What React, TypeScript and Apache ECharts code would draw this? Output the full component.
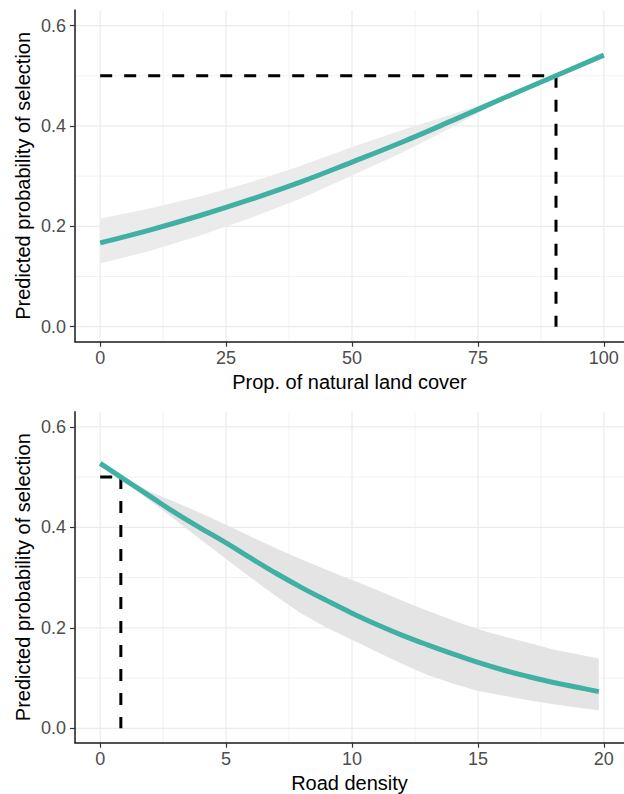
import React, { useEffect, useRef } from "react";
import * as echarts from "echarts";

// ---- Panel 1: proportion of natural land cover ----
const landX = [0, 10, 20, 30, 40, 50, 60, 70, 80, 90, 100];
const landFit = [0.167, 0.193, 0.222, 0.254, 0.289, 0.328, 0.368, 0.411, 0.455, 0.498, 0.541];
const landUpper = [0.215, 0.236, 0.26, 0.288, 0.321, 0.358, 0.392, 0.424, 0.458, 0.5, 0.543];
const landLower = [0.126, 0.151, 0.182, 0.217, 0.256, 0.301, 0.347, 0.398, 0.452, 0.496, 0.539];
const landCutoff = 90.5;
const landXTicks = [0, 25, 50, 75, 100];
const landXMinor = [12.5, 37.5, 62.5, 87.5];

// ---- Panel 2: road density ----
const roadX = [0, 1, 2, 3, 4, 5, 6, 7, 8, 9, 10, 11, 12, 13, 14, 15, 16, 17, 18, 19, 19.8];
const roadFit = [0.527, 0.494, 0.461, 0.428, 0.398, 0.369, 0.338, 0.308, 0.28, 0.254, 0.229, 0.206, 0.185, 0.166, 0.148, 0.131, 0.116, 0.103, 0.091, 0.081, 0.073];
const roadUpper = [0.529, 0.497, 0.47, 0.45, 0.428, 0.405, 0.381, 0.358, 0.336, 0.315, 0.295, 0.275, 0.254, 0.234, 0.215, 0.197, 0.183, 0.17, 0.157, 0.147, 0.139];
const roadLower = [0.525, 0.491, 0.452, 0.414, 0.375, 0.337, 0.299, 0.262, 0.228, 0.2, 0.176, 0.152, 0.128, 0.106, 0.089, 0.074, 0.065, 0.056, 0.048, 0.041, 0.036];
const roadCutoff = 0.82;
const roadXTicks = [0, 5, 10, 15, 20];
const roadXMinor = [2.5, 7.5, 12.5, 17.5];

const threshold = 0.5;
const yTicks = [0, 0.2, 0.4, 0.6];
const yMinor = [0.1, 0.3, 0.5];

const TEAL = "#40b0a3";
const FONT = "'Liberation Sans', Arial, sans-serif";

function gridSeries(idx: number, xr: number[], yr: number[], xMaj: number[], xMin: number[]) {
  return {
    type: "custom",
    xAxisIndex: idx,
    yAxisIndex: idx,
    silent: true,
    z: 0,
    data: [0],
    renderItem: (_p: any, api: any) => {
      const children: any[] = [];
      const mk = (a: number[], b: number[], major: boolean) => {
        const p1 = api.coord(a);
        const p2 = api.coord(b);
        children.push({
          type: "line",
          shape: { x1: p1[0], y1: p1[1], x2: p2[0], y2: p2[1] },
          style: { stroke: major ? "#ebebeb" : "#f2f2f2", lineWidth: major ? 1.2 : 1 },
        });
      };
      xMin.forEach((v) => mk([v, yr[0]], [v, yr[1]], false));
      yMinor.forEach((v) => mk([xr[0], v], [xr[1], v], false));
      xMaj.forEach((v) => mk([v, yr[0]], [v, yr[1]], true));
      yTicks.forEach((v) => mk([xr[0], v], [xr[1], v], true));
      return { type: "group", children };
    },
  };
}

function ribbonSeries(idx: number, xs: number[], up: number[], lo: number[], color: string) {
  return {
    type: "custom",
    xAxisIndex: idx,
    yAxisIndex: idx,
    silent: true,
    z: 1,
    data: [0],
    renderItem: (_p: any, api: any) => {
      const pts: number[][] = [];
      xs.forEach((x, i) => pts.push(api.coord([x, up[i]])));
      for (let i = xs.length - 1; i >= 0; i--) pts.push(api.coord([xs[i], lo[i]]));
      return { type: "polygon", shape: { points: pts }, style: { fill: color } };
    },
  };
}

function xAxisCfg(idx: number, min: number, max: number, ticks: number[], name: string) {
  return {
    type: "value",
    gridIndex: idx,
    min,
    max,
    axisLine: { show: true, onZero: false, lineStyle: { color: "#1a1a1a", width: 1.5 } },
    axisTick: { show: true, length: 5, customValues: ticks, lineStyle: { color: "#333333", width: 1.2 } },
    axisLabel: { customValues: ticks, color: "#4d4d4d", fontSize: 18, margin: 7, fontFamily: FONT },
    splitLine: { show: false },
    name,
    nameLocation: "middle",
    nameGap: 30,
    nameMoveOverlap: false,
    nameTextStyle: { color: "#000", fontSize: 20, fontFamily: FONT },
  };
}

function yAxisCfg(idx: number, min: number, max: number) {
  return {
    type: "value",
    gridIndex: idx,
    min,
    max,
    axisLine: { show: true, onZero: false, lineStyle: { color: "#1a1a1a", width: 1.5 } },
    axisTick: { show: true, length: 5, customValues: yTicks, lineStyle: { color: "#333333", width: 1.2 } },
    axisLabel: {
      customValues: yTicks,
      color: "#4d4d4d",
      fontSize: 18,
      margin: 9,
      fontFamily: FONT,
      formatter: (v: number) => v.toFixed(1),
    },
    splitLine: { show: false },
    name: "Predicted probability of selection",
    nameLocation: "middle",
    nameGap: 42,
    nameRotate: 90,
    nameMoveOverlap: false,
    nameTextStyle: { color: "#000", fontSize: 20, fontFamily: FONT },
  };
}

function dashed(idx: number, pts: number[][]) {
  return {
    type: "line",
    xAxisIndex: idx,
    yAxisIndex: idx,
    data: pts,
    showSymbol: false,
    silent: true,
    z: 4,
    lineStyle: { color: "#000", width: 3, type: [12, 12], cap: "butt" },
  };
}

function fitLine(idx: number, xs: number[], ys: number[]) {
  return {
    type: "line",
    xAxisIndex: idx,
    yAxisIndex: idx,
    data: xs.map((x, i) => [x, ys[i]]),
    showSymbol: false,
    smooth: 0.4,
    silent: true,
    z: 5,
    lineStyle: { color: TEAL, width: 5, cap: "butt" },
  };
}

export default function App() {
  const ref = useRef<HTMLDivElement>(null);
  useEffect(() => {
    if (!ref.current) return;
    const chart = echarts.init(ref.current, null, { renderer: "svg" });
    const landXR = [-5, 104];
    const landYR = [-0.03, 0.631];
    const roadXR = [-1, 20.8];
    const roadYR = [-0.0287, 0.63];
    chart.setOption({
      animation: false,
      backgroundColor: "#ffffff",
      textStyle: { fontFamily: FONT },
      grid: [
        { left: 75, top: 10, width: 549, height: 331.7, outerBoundsMode: "none", containLabel: false },
        { left: 75, top: 411.7, width: 549, height: 331, outerBoundsMode: "none", containLabel: false },
      ],
      xAxis: [
        xAxisCfg(0, landXR[0], landXR[1], landXTicks, "Prop. of natural land cover"),
        xAxisCfg(1, roadXR[0], roadXR[1], roadXTicks, "Road density"),
      ],
      yAxis: [yAxisCfg(0, landYR[0], landYR[1]), yAxisCfg(1, roadYR[0], roadYR[1])],
      series: [
        gridSeries(0, landXR, landYR, landXTicks, landXMinor),
        gridSeries(1, roadXR, roadYR, roadXTicks, roadXMinor),
        ribbonSeries(0, landX, landUpper, landLower, "#ebebeb"),
        ribbonSeries(1, roadX, roadUpper, roadLower, "#e4e4e4"),
        dashed(0, [[0, threshold], [landCutoff, threshold]]),
        dashed(0, [[landCutoff, threshold], [landCutoff, 0]]),
        dashed(1, [[0, threshold], [roadCutoff, threshold]]),
        dashed(1, [[roadCutoff, threshold], [roadCutoff, 0]]),
        fitLine(0, landX, landFit),
        fitLine(1, roadX, roadFit),
      ],
    });
    return () => chart.dispose();
  }, []);
  return (
    <div
      ref={ref}
      style={{ position: "fixed", left: 0, top: 0, width: 624, height: 794, background: "#fff" }}
    />
  );
}
